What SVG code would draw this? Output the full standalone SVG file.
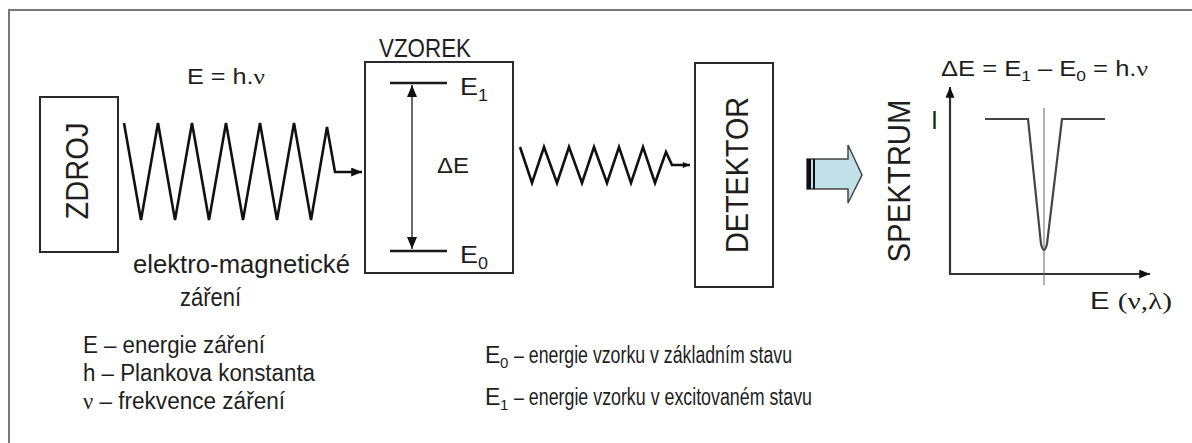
<svg xmlns="http://www.w3.org/2000/svg" width="1192" height="443" viewBox="0 0 1192 443">
<style>
text{font-family:"Liberation Sans",Arial,sans-serif;fill:#1e1e1e}
.gr{font-family:"Liberation Serif","Times New Roman",serif}
.box{fill:none;stroke:#2a2a2a;stroke-width:2}
.wave{fill:none;stroke:#111;stroke-width:2.6;stroke-linejoin:miter}
.ln{fill:none;stroke:#1a1a1a;stroke-width:2.5}
.ax{fill:none;stroke:#333;stroke-width:2.2}
.curve{fill:none;stroke:#444;stroke-width:2.2}
.thin{fill:none;stroke:#666;stroke-width:1}
.dbl{fill:none;stroke:#444;stroke-width:1.6}
</style>
<defs>
<marker id="ah" viewBox="0 0 12 10" refX="12" refY="5" markerWidth="12" markerHeight="9" orient="auto" markerUnits="userSpaceOnUse">
<path d="M0,0 L12,5 L0,10 Z" fill="#111"/>
</marker>
<marker id="ahs" viewBox="0 0 12 10" refX="12" refY="5" markerWidth="8" markerHeight="6" orient="auto" markerUnits="userSpaceOnUse">
<path d="M0,0 L12,5 L0,10 Z" fill="#111"/>
</marker>
<marker id="ahd" viewBox="0 0 12 10" refX="12" refY="5" markerWidth="12" markerHeight="10" orient="auto-start-reverse" markerUnits="userSpaceOnUse">
<path d="M0,0 L12,5 L0,10 Z" fill="#111"/>
</marker>
</defs>

<rect x="9" y="10" width="1200" height="450" fill="#fff" stroke="#777" stroke-width="2"/>

<g id="zdroj">
<rect class="box" x="40" y="97" width="78" height="155"/>
<text transform="translate(88,171) rotate(-90)" text-anchor="middle" font-size="32" textLength="97" lengthAdjust="spacingAndGlyphs">ZDROJ</text>
</g>

<g id="vzorek">
<text x="379" y="57" font-size="25" textLength="92" lengthAdjust="spacingAndGlyphs">VZOREK</text>
<rect class="box" x="365" y="62" width="148" height="211"/>
<line class="ln" x1="390" y1="83" x2="447" y2="83"/>
<line class="ln" x1="390" y1="251" x2="447" y2="251"/>
<line class="dbl" x1="412" y1="85" x2="412" y2="249" marker-start="url(#ahd)" marker-end="url(#ahd)"/>
<text x="460" y="95" font-size="24" textLength="28" lengthAdjust="spacingAndGlyphs">E<tspan font-size="16" dy="6">1</tspan></text>
<text x="460" y="263" font-size="24" textLength="28" lengthAdjust="spacingAndGlyphs">E<tspan font-size="16" dy="6">0</tspan></text>
<text x="437" y="173" font-size="22" textLength="32" lengthAdjust="spacingAndGlyphs">ΔE</text>
</g>

<g id="detektor">
<rect class="box" x="695" y="63" width="78" height="224"/>
<text transform="translate(748,175) rotate(-90)" text-anchor="middle" font-size="32" textLength="156" lengthAdjust="spacingAndGlyphs">DETEKTOR</text>
</g>

<g id="spektrum">
<text transform="translate(910,181) rotate(-90)" text-anchor="middle" font-size="31" textLength="163" lengthAdjust="spacingAndGlyphs">SPEKTRUM</text>
<text x="941" y="76" font-size="22" textLength="207" lengthAdjust="spacingAndGlyphs">ΔE = E<tspan font-size="15" dy="5">1</tspan><tspan dy="-5"> – E</tspan><tspan font-size="15" dy="5">0</tspan><tspan dy="-5"> = h.</tspan><tspan class="gr">ν</tspan></text>
<line class="ax" x1="950" y1="274" x2="950" y2="87" marker-end="url(#ah)"/>
<line class="ax" x1="949" y1="274" x2="1150" y2="274" marker-end="url(#ah)"/>
<text x="931" y="129" font-size="25">I</text>
<line class="thin" x1="1044" y1="108" x2="1044" y2="285"/>
<path class="curve" d="M985,119 L1028,119 L1041,244 Q1044,256 1047,244 L1062,119 L1105,119"/>
<text x="1090" y="309" font-size="24" textLength="82" lengthAdjust="spacingAndGlyphs">E <tspan class="gr">(ν,λ)</tspan></text>
</g>

<g id="connectors">
<path class="wave" d="M124,123 L141,220 L158,123 L175,220 L192,123 L209,220 L226,123 L243,220 L260,123 L277,220 L294,123 L311,220 L327,127 L335,172 L362,172" marker-end="url(#ah)"/>
<path class="wave" stroke-width="2.2" d="M520,147 L532,183 L544,147 L557,183 L569,147 L582,183 L594,147 L607,183 L619,147 L631,183 L643,147 L655,183 L666,152 L672,165 L690,165" marker-end="url(#ahs)"/>
<g id="bigarrow">
<path d="M807,159 L848,159 L848,145 L862,175 L848,203 L848,189 L807,189 Z" fill="#bfe1e7" stroke="#444" stroke-width="1.5"/>
<rect x="807" y="159" width="4" height="30" fill="#111"/>
<rect x="813" y="159" width="2" height="30" fill="#111"/>
</g>
</g>

<g id="labels">
<text x="187" y="84" font-size="22" textLength="78" lengthAdjust="spacingAndGlyphs">E = h.<tspan class="gr">ν</tspan></text>
<text x="133" y="273" font-size="25" textLength="217" lengthAdjust="spacingAndGlyphs">elektro-magnetické</text>
<text x="180" y="306" font-size="25" textLength="61" lengthAdjust="spacingAndGlyphs">záření</text>
<text x="83" y="353" font-size="23" textLength="182" lengthAdjust="spacingAndGlyphs">E – energie záření</text>
<text x="83" y="381" font-size="23" textLength="232" lengthAdjust="spacingAndGlyphs">h – Plankova konstanta</text>
<text x="83" y="409" font-size="23" textLength="202" lengthAdjust="spacingAndGlyphs"><tspan class="gr">ν</tspan> – frekvence záření</text>
<text x="485" y="363" font-size="23">E</text>
<text x="500" y="368" font-size="15">0</text>
<text x="514" y="363" font-size="23" textLength="278" lengthAdjust="spacingAndGlyphs">– energie vzorku v základním stavu</text>
<text x="485" y="405" font-size="23">E</text>
<text x="500" y="410" font-size="15">1</text>
<text x="514" y="405" font-size="23" textLength="298" lengthAdjust="spacingAndGlyphs">– energie vzorku v excitovaném stavu</text>
</g>
</svg>
